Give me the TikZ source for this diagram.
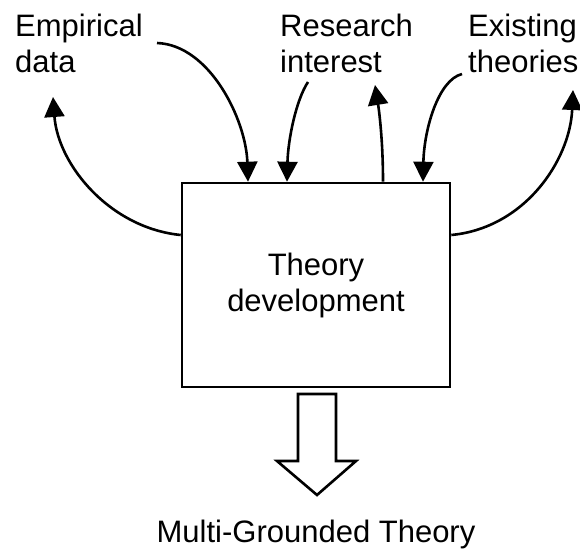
\documentclass[tikz,border=0pt]{standalone}
\usepackage{fontspec}
\setmainfont{Liberation Sans}
\usepackage{tikz}
\usetikzlibrary{arrows.meta}

\tikzset{
  lbl/.style={inner sep=0pt, align=left, font=\fontsize{31}{36}\selectfont},
  flow/.style={line width=2.6pt, -{Triangle[width=20pt,length=20pt]}},
}

\begin{document}
\begin{tikzpicture}[x=1pt,y=-1pt]
    \useasboundingbox (0,0) rectangle (580,548);
    % Labels at the top (base = last line)
    \node[lbl, anchor=base west] (emp) at (15,73)  {Empirical\\data};
    \node[lbl, anchor=base west] (res) at (280,73) {Research\\interest};
    \node[lbl, anchor=base west] (exi) at (468,73) {Existing\\theories};
    % Main box
    \node[lbl, draw, line width=2.6pt, align=center, minimum width=268pt,
          minimum height=204pt] (dev) at (316,285) {Theory\\development};
    \node[lbl, anchor=base] (mgt) at (316,542) {Multi-Grounded Theory};
    % Ends of the curved arrows
    \coordinate (EI) at (157,43);  % from Empirical
    \coordinate (RI) at (308,82);  % from Research
    \coordinate (XI) at (462,74);  % from Existing
    \coordinate (EO) at (53,97);   % back to Empirical
    \coordinate (RO) at (375,85);  % back to Research
    \coordinate (XO) at (573,90);  % back to Existing
    \coordinate (BL) at (dev.west |- 0,235);  % left side of box
    \coordinate (BR) at (dev.east |- 0,235);  % right side of box
    \draw[flow] (EI) .. controls (210,45) and (246,120) .. (dev.north -| 248,0);
    \draw[flow] (RI) .. controls (296,100) and (288,140) .. (dev.north -| 287,0);
    \draw[flow] (XI) .. controls (438,80) and (424,130) .. (dev.north -| 423,0);
    \draw[flow] (dev.north -| 383,0) .. controls (383,140) and (379,110) .. (RO);
    \draw[flow] (BL) .. controls (110,228) and (58,165) .. (EO);
    \draw[flow] (BR) .. controls (525,228) and (570,160) .. (XO);
    % Block arrow down
    \draw[line width=2.6pt, line join=miter]
        (298,394) -- (336,394) -- (336,461) -- (356,461) -- (317,495)
        -- (277,461) -- (298,461) -- cycle;
\end{tikzpicture}
\end{document}
